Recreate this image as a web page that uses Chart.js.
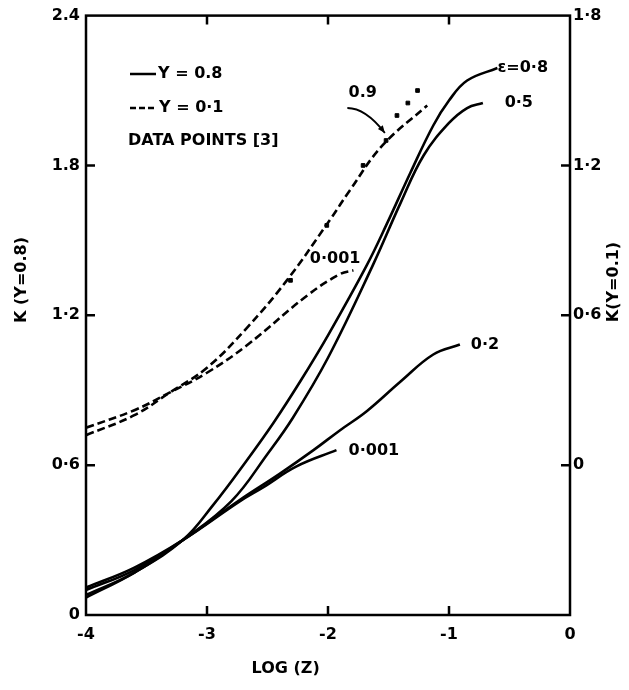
<!DOCTYPE html>
<html>
<head>
<meta charset="utf-8">
<script src="https://cdn.jsdelivr.net/npm/chart.js@4/dist/chart.umd.min.js"></script>
<style>
  html, body { margin: 0; padding: 0; background: #fff; }
  canvas { display: block; }
</style>
</head>
<body>
<canvas id="chart" width="629" height="690"></canvas>
<script>
// values; left axis K(Υ=0.8), right axis K(Υ=0.1)
const xTicks = [-4, -3, -2, -1, 0];
const leftTicks = ['0', '0·6', '1·2', '1.8', '2.4'];
const rightTicks = ['', '0', '0·6', '1·2', '1·8'];

// solid curves, Υ = 0.8 (left axis)
const e08X = [-4, -3.6, -3.2, -2.95, -2.67, -2.45, -2.23, -2.0, -1.68, -1.51, -1.32, -1.13, -1.0, -0.85, -0.6];
const e08Y = [0.07, 0.17, 0.30, 0.44, 0.62, 0.77, 0.935, 1.12, 1.40, 1.57, 1.77, 1.96, 2.06, 2.14, 2.19];
const e05X = [-4, -3.6, -3.2, -2.8, -2.5, -2.29, -2.0, -1.63, -1.4, -1.21, -1.0, -0.85, -0.72];
const e05Y = [0.08, 0.17, 0.30, 0.455, 0.645, 0.79, 1.03, 1.40, 1.65, 1.84, 1.97, 2.03, 2.05];
const e02X = [-4, -3.6, -3.2, -2.73, -2.4, -2.12, -1.9, -1.68, -1.4, -1.13, -0.91];
const e02Y = [0.10, 0.18, 0.30, 0.46, 0.565, 0.66, 0.74, 0.816, 0.935, 1.043, 1.083];
const e0001X = [-4, -3.6, -3.2, -2.73, -2.54, -2.26, -1.93];
const e0001Y = [0.11, 0.19, 0.30, 0.455, 0.51, 0.595, 0.66];

// dashed curves, Υ = 0.1 (right axis)
const d09X = [-4, -3.6, -3.31, -3.0, -2.67, -2.34, -1.98, -1.82, -1.55, -1.18];
const d09Y = [0.12, 0.20, 0.29, 0.39, 0.55, 0.74, 0.985, 1.10, 1.28, 1.44];
const d0001X = [-4, -3.6, -3.31, -3.0, -2.67, -2.17, -1.9, -1.79];
const d0001Y = [0.15, 0.22, 0.29, 0.37, 0.48, 0.68, 0.765, 0.78];

// data points [3] (right axis)
const ptsX = [-2.31, -2.01, -1.71, -1.52, -1.43, -1.34, -1.26];
const ptsY = [0.74, 0.96, 1.20, 1.30, 1.40, 1.45, 1.50];

const FONT = "'DejaVu Sans', sans-serif";

const zip = (xs, ys) => xs.map((x, i) => ({ x: x, y: ys[i] }));

const solid = (xs, ys) => ({
  data: zip(xs, ys), yAxisID: 'y', showLine: true, borderColor: '#000',
  borderWidth: 2.6, pointRadius: 0, tension: 0.4, fill: false
});
const dashed = (xs, ys) => ({
  data: zip(xs, ys), yAxisID: 'y2', showLine: true, borderColor: '#000',
  borderWidth: 2.6, borderDash: [8, 4], pointRadius: 0, tension: 0.4, fill: false
});

// text labels placed in data coordinates of the left axis
const curveLabels = [
  { text: 'ε=0·8', x: -0.6, y: 2.19 },
  { text: '0·5', x: -0.54, y: 2.05 },
  { text: '0·2', x: -0.82, y: 1.083 },
  { text: '0·001', x: -1.83, y: 0.657 },
  { text: '0.9', x: -1.83, y: 2.09 },
  { text: '0·001', x: -2.15, y: 1.425 }
];

const decorations = {
  id: 'decorations',
  afterDraw(chart) {
    const ctx = chart.ctx;
    const a = chart.chartArea;
    const sx = chart.scales.x, sy = chart.scales.y, sy2 = chart.scales.y2;
    ctx.save();
    ctx.strokeStyle = '#000';
    ctx.fillStyle = '#000';
    ctx.lineWidth = 2.5;
    // frame
    ctx.strokeRect(a.left, a.top, a.right - a.left, a.bottom - a.top);
    // inward ticks
    ctx.beginPath();
    [-3, -2, -1].forEach(v => {
      const px = sx.getPixelForValue(v);
      ctx.moveTo(px, a.bottom); ctx.lineTo(px, a.bottom - 9);
      ctx.moveTo(px, a.top); ctx.lineTo(px, a.top + 9);
    });
    [0.6, 1.2, 1.8].forEach(v => {
      const py = sy.getPixelForValue(v);
      ctx.moveTo(a.left, py); ctx.lineTo(a.left + 9, py);
    });
    [0, 0.6, 1.2].forEach(v => {
      const py = sy2.getPixelForValue(v);
      ctx.moveTo(a.right, py); ctx.lineTo(a.right - 9, py);
    });
    ctx.stroke();

    ctx.font = 'bold 16px ' + FONT;
    ctx.textBaseline = 'middle';
    ctx.textAlign = 'left';
    curveLabels.forEach(l => {
      ctx.fillText(l.text, sx.getPixelForValue(l.x), sy.getPixelForValue(l.y));
    });

    // arrow from the 0.9 label to its curve
    const ax0 = sx.getPixelForValue(-1.84), ay0 = sy.getPixelForValue(2.03);
    const ax1 = sx.getPixelForValue(-1.69), ay1 = sy.getPixelForValue(2.03);
    const ax2 = sx.getPixelForValue(-1.53), ay2 = sy.getPixelForValue(1.93);
    ctx.lineWidth = 1.8;
    ctx.beginPath();
    ctx.moveTo(ax0, ay0);
    ctx.quadraticCurveTo(ax1, ay1, ax2, ay2);
    ctx.stroke();
    const ang = Math.atan2(ay2 - ay1, ax2 - ax1);
    ctx.beginPath();
    ctx.moveTo(ax2, ay2);
    ctx.lineTo(ax2 - 8 * Math.cos(ang - 0.4), ay2 - 8 * Math.sin(ang - 0.4));
    ctx.lineTo(ax2 - 8 * Math.cos(ang + 0.4), ay2 - 8 * Math.sin(ang + 0.4));
    ctx.closePath();
    ctx.fill();

    // legend
    ctx.lineWidth = 2.5;
    ctx.beginPath();
    ctx.moveTo(130, 74); ctx.lineTo(156, 74);
    ctx.stroke();
    ctx.setLineDash([6, 3]);
    ctx.beginPath();
    ctx.moveTo(130, 108); ctx.lineTo(157, 108);
    ctx.stroke();
    ctx.setLineDash([]);
    ctx.fillText('Υ = 0.8', 158, 74);
    ctx.fillText('Υ = 0·1', 159, 108);
    ctx.fillText('DATA POINTS [3]', 128, 141);

    // axis titles
    ctx.textAlign = 'center';
    ctx.fillText('LOG (Z)', sx.getPixelForValue(-2.35), 669);
    ctx.save();
    ctx.translate(22, 280);
    ctx.rotate(-Math.PI / 2);
    ctx.fillText('K (Υ=0.8)', 0, 0);
    ctx.restore();
    ctx.save();
    ctx.translate(614, 282);
    ctx.rotate(-Math.PI / 2);
    ctx.fillText('K(Υ=0.1)', 0, 0);
    ctx.restore();
    ctx.restore();
  }
};

new Chart(document.getElementById('chart'), {
  type: 'scatter',
  data: {
    datasets: [
      solid(e08X, e08Y),
      solid(e05X, e05Y),
      solid(e02X, e02Y),
      solid(e0001X, e0001Y),
      dashed(d09X, d09Y),
      dashed(d0001X, d0001Y),
      {
        data: zip(ptsX, ptsY), yAxisID: 'y2', showLine: false,
        pointStyle: 'rect', pointRadius: 2.6, backgroundColor: '#000', borderColor: '#000'
      }
    ]
  },
  options: {
    responsive: false,
    animation: false,
    layout: { padding: { top: 12, left: 0, right: 0, bottom: 0 } },
    plugins: { legend: { display: false }, tooltip: { enabled: false } },
    scales: {
      x: {
        type: 'linear', min: -4, max: 0,
        afterBuildTicks: s => { s.ticks = xTicks.map(v => ({ value: v })); },
        afterFit: s => { s.height = 75; },
        grid: { display: false, drawTicks: false },
        border: { display: false },
        ticks: {
          padding: 10, color: '#000', maxRotation: 0,
          font: { family: FONT, size: 16, weight: 'bold' },
          callback: v => String(v)
        }
      },
      y: {
        type: 'linear', position: 'left', min: 0, max: 2.4,
        afterBuildTicks: s => { s.ticks = leftTicks.map((t, i) => ({ value: i * 0.6 })); },
        afterFit: s => { s.width = 86; },
        grid: { display: false, drawTicks: false },
        border: { display: false },
        ticks: {
          padding: 6, color: '#000',
          font: { family: FONT, size: 16, weight: 'bold' },
          callback: (v, i) => leftTicks[i]
        }
      },
      y2: {
        type: 'linear', position: 'right', min: -0.6, max: 1.8,
        afterBuildTicks: s => { s.ticks = rightTicks.map((t, i) => ({ value: -0.6 + i * 0.6 })); },
        afterFit: s => { s.width = 59; },
        grid: { display: false, drawTicks: false },
        border: { display: false },
        ticks: {
          padding: 3, color: '#000',
          font: { family: FONT, size: 16, weight: 'bold' },
          callback: (v, i) => rightTicks[i]
        }
      }
    }
  },
  plugins: [decorations]
});
</script>
</body>
</html>
